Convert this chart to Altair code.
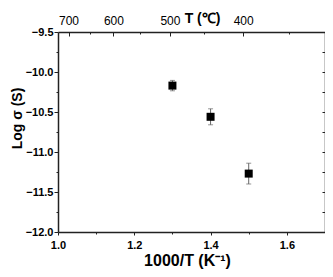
import altair as alt
import pandas as pd

# ---- data ----
inv_T = [1.30, 1.40, 1.50]
log_sigma = [-10.17, -10.56, -11.27]
sigma_err = [0.065, 0.10, 0.13]

x_major = [1.0, 1.2, 1.4, 1.6]
x_minor = [1.1, 1.3, 1.5]
y_major = [-12.0, -11.5, -11.0, -10.5, -10.0, -9.5]
y_minor = [-11.75, -11.25, -10.75, -10.25, -9.75]
t_major = [700, 600, 500, 400]
t_minor = [650, 550, 450, 350]

t_major_pos = [1000.0 / (t + 273.15) for t in t_major]
t_minor_pos = [1000.0 / (t + 273.15) for t in t_minor]

df = pd.DataFrame({
    "x": inv_T,
    "y": log_sigma,
    "lo": [v - e for v, e in zip(log_sigma, sigma_err)],
    "hi": [v + e for v, e in zip(log_sigma, sigma_err)],
})

W, H = 267, 200
PAD_L, PAD_T, PAD_R, PAD_B = 50, 24, 0, 38
FONT = "Liberation Sans"
INK = "#222222"

xs = alt.Scale(domain=[1.0, 1.7], nice=False, zero=False)
ys = alt.Scale(domain=[-12.0, -9.5], nice=False, zero=False)

x_main_axis = alt.Axis(
    orient="bottom", values=x_major, format=".1f", tickSize=3,
    labelPadding=13, labelBaseline="alphabetic", labelFontSize=11,
    labelFontWeight="bold", labelFlush=False,
    title="1000/T (K⁻¹)", titleFontSize=16, titleFontWeight="bold",
    titleX=129, titleY=33.5, titleBaseline="alphabetic", titleAlign="center",
)
y_main_axis = alt.Axis(
    orient="left", values=y_major, format=".1f", tickSize=4,
    labelPadding=1, labelFontSize=11, labelFontWeight="bold", labelFlush=False,
    title="Log σ (S)", titleFontSize=14, titleFontWeight="bold",
    titleAngle=270, titleX=-37, titleY=86, titleAlign="center",
    titleBaseline="alphabetic",
)

X = alt.X("x:Q", scale=xs, axis=x_main_axis)

bars = alt.Chart(df).mark_rule(color="#666666", strokeWidth=1).encode(
    x=X, y=alt.Y("lo:Q", scale=ys, axis=y_main_axis), y2="hi:Q"
)
cap_lo = alt.Chart(df).mark_tick(orient="horizontal", size=5, thickness=1, color="#666666").encode(
    x=X, y=alt.Y("lo:Q", scale=ys, axis=y_main_axis)
)
cap_hi = alt.Chart(df).mark_tick(orient="horizontal", size=5, thickness=1, color="#666666").encode(
    x=X, y=alt.Y("hi:Q", scale=ys, axis=y_main_axis)
)
pts = alt.Chart(df).mark_square(size=64, color="black", opacity=1).encode(
    x=X, y=alt.Y("y:Q", scale=ys, axis=y_main_axis)
)
main = alt.layer(bars, cap_lo, cap_hi, pts)


def ax_layer(xaxis, yaxis):
    return alt.Chart(df).mark_point(opacity=0).encode(
        x=alt.X("x:Q", scale=xs, axis=xaxis),
        y=alt.Y("y:Q", scale=ys, axis=yaxis),
    )


# minor outward ticks (bottom / left)
minor_out = ax_layer(
    alt.Axis(orient="bottom", values=x_minor, labels=False, domain=False, tickSize=2, title=None),
    alt.Axis(orient="left", values=y_minor, labels=False, domain=False, tickSize=2, title=None),
)
# inward major ticks on top / right frame
major_in = ax_layer(
    alt.Axis(orient="bottom", offset=-H, values=t_major_pos, labels=False, domain=True, tickSize=4, title=None),
    alt.Axis(orient="left", offset=-W, values=y_major, labels=False, domain=True, tickSize=3, title=None),
)
# inward minor ticks on top / right frame
minor_in = ax_layer(
    alt.Axis(orient="bottom", offset=-H, values=t_minor_pos, labels=False, domain=False, tickSize=2, title=None),
    alt.Axis(orient="left", offset=-W, values=y_minor, labels=False, domain=False, tickSize=3, title=None),
)
# top temperature labels
top_labels = ax_layer(
    alt.Axis(
        orient="top", values=t_major_pos, ticks=False, tickSize=0, domain=False,
        labelExpr="format(1000 / datum.value - 273.15, '.0f')",
        labelPadding=7.5, labelBaseline="alphabetic", labelFontSize=12,
        labelFontWeight="normal", labelFlush=False,
        title="T (℃)", titleFontSize=14, titleFontWeight="bold",
        titleX=144, titleY=-10, titleBaseline="alphabetic", titleAlign="center",
    ),
    None,
)

chart = (
    alt.layer(main, minor_out, major_in, minor_in, top_labels)
    .resolve_scale(x="independent", y="independent")
    .properties(
        width=W, height=H,
        autosize=alt.AutoSizeParams(type="none"),
        padding={"left": PAD_L, "top": PAD_T, "right": PAD_R, "bottom": PAD_B},
    )
    .configure_axis(
        grid=False, domainColor=INK, domainWidth=1.5, tickColor=INK, tickWidth=1,
        labelColor="black", titleColor="black", labelFont=FONT, titleFont=FONT,
    )
    .configure_view(stroke=None)
)

chart.save("out.html", embed_options={"renderer": "svg", "actions": False})
